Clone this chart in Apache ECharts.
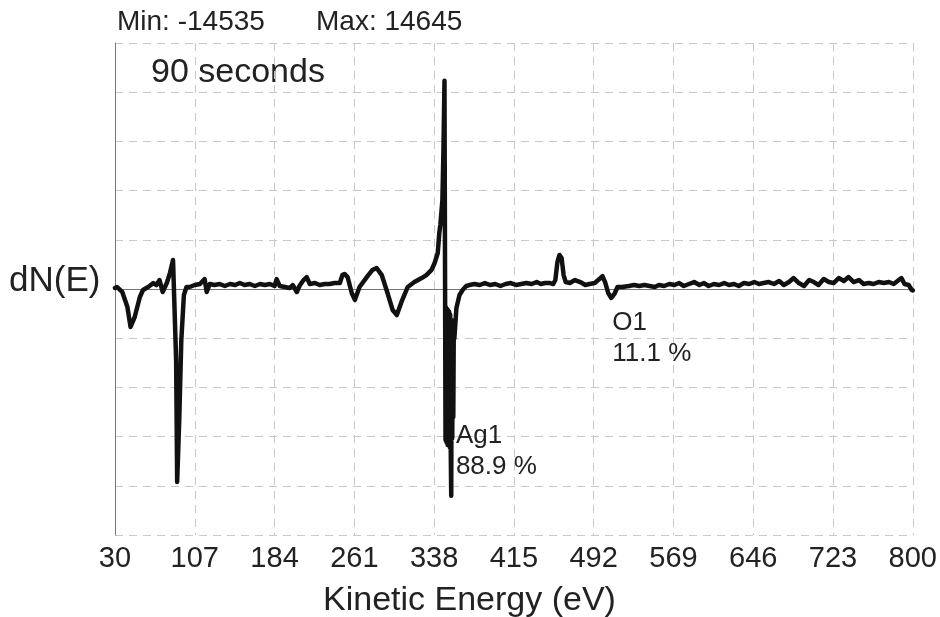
<!DOCTYPE html>
<html>
<head>
<meta charset="utf-8">
<script src="https://cdn.jsdelivr.net/npm/echarts@6/dist/echarts.min.js"></script>
<style>
  html, body { margin: 0; padding: 0; background: #fff; }
  #chart { width: 940px; height: 617px; }
</style>
</head>
<body>
<div id="chart"></div>
<script>
// AES spectrum, derivative mode (90 s acquisition)
const xTicks = [30, 107, 184, 261, 338, 415, 492, 569, 646, 723, 800];

// kinetic energy (eV)
const energy = [
  30, 32, 37, 42, 45, 49, 54, 57, 62, 67, 70, 73, 76, 80, 83, 86, 87, 89, 90, 92, 94, 96.5, 99, 102,
  107, 112, 116.5, 118.5, 121.5, 126, 131, 136, 141, 146, 150.5, 155, 160, 165, 170, 174.5, 179.5,
  184, 186, 189, 194, 198.5, 201.5, 205.5, 208, 212, 215, 218, 223, 227.5, 232.5, 237, 242, 247,
  249.5, 251.5, 254.5, 258.5, 261.5, 266, 273, 278.5, 282.5, 287.5, 293, 298, 302, 306.5, 312.5,
  319, 326, 330.5, 335.5, 338.5, 341.5, 343, 344, 346, 347, 348,
  349, 349.5, 350, 350.5, 351, 351.5, 352, 352.5, 353, 353.5, 354, 354.5, 355, 355.5, 356, 356.5, 357, 357.5,
  359.5, 362.5, 365.5, 369, 372, 377, 382, 387, 392, 397, 402, 407, 412, 417, 422, 427,
  432, 437, 441, 445, 450, 453, 455, 457, 459, 461, 463, 465, 469, 474, 479, 484, 488, 493, 497.5,
  500.5, 503, 506, 509, 512, 515, 519.5, 526, 531, 536, 541, 546, 551, 555, 560, 565, 570, 574.5,
  579, 584, 589, 594, 598.5, 603, 608, 613, 618, 622.5, 627.5, 632, 637, 642, 647, 651.5, 656, 661,
  666, 671, 675.5, 680.5, 685, 690, 695, 700, 704.5, 709, 714, 719, 723.5, 728.5, 733.5, 738, 743,
  748, 752.5, 757.5, 762, 767, 772, 777, 781.5, 786.5, 789, 792, 796, 799, 800
];

// dN(E) counts
const dNE = [
  70, 140, -210, -1270, -2670, -1970, -560, -70, 140, 420, 280, 630, -210, 420, 1120, 2040, 1900,
  -5000, -13570, -9210, -3590, -420, 140, 140,
  280, 350, 700, -210, 350, 280, 350, 210, 350, 280, 420, 280, 350, 210, 350, 280, 350,
  210, 700, 210, 140, 70, 280, -210, 210, 630, 840, 350, 420, 280, 350, 350, 420, 420,
  980, 1060, 840, -280, -770, 140, 840, 1340, 1480, 980, -280, -1480, -1830, -910, 140,
  490, 770, 980, 1340, 1830, 2530, 3940, 4500, 6260, 9780, 14645,
  -10620, -1300, -10800, -1400, -10970, -1500, -11000, -1600, -11110, -1800, -11000, -14535,
  -2200, -10500, -2600, -9000, -2400, -3500,
  -1340, -420, -70, 210, 280, 350, 280, 420, 280, 350, 210, 350, 420, 280, 350, 420,
  350, 490, 350, 420, 420, 350, 630, 1900, 2390, 2180, 980, 490, 420, 630, 490, 280, 350, 420, 700,
  910, 490, -280, -630, -350, 140, 140, 210, 280, 210, 280, 210, 140, 280, 210, 350, 280, 420,
  210, 350, 490, 280, 420, 210, 350, 280, 420, 280, 350, 210, 420, 350, 490, 350, 420, 490,
  350, 560, 280, 490, 770, 420, 210, 630, 490, 280, 700, 490, 420, 770, 560, 840, 490,
  630, 350, 420, 350, 490, 420, 490, 350, 630, 770, 350, 280, -70, -100
];

const peakLabels = [
  { name: 'Ag1', pct: '88.9 %', e: 359, v: -11450 },
  { name: 'O1', pct: '11.1 %', e: 510, v: -3500 }
];

const chart = echarts.init(document.getElementById('chart'));
const font = '"Liberation Sans", Arial, Helvetica, sans-serif';

chart.setOption({
  animation: false,
  backgroundColor: '#fff',
  grid: { left: 115, right: 26, top: 43, bottom: 82 },
  xAxis: {
    type: 'value',
    min: 30,
    max: 800,
    interval: 77,
    axisLine: { lineStyle: { color: '#777', width: 1 } },
    axisTick: { show: false },
    axisLabel: {
      fontFamily: font, fontSize: 29, color: '#222', margin: 9,
      formatter: v => (xTicks.indexOf(v) >= 0 ? String(v) : '')
    },
    splitLine: { show: true, lineStyle: { color: '#c8c8c8', type: [8, 6], width: 1 } }
  },
  yAxis: {
    type: 'value',
    min: -17300,
    max: 17300,
    interval: 3460,
    axisLine: { show: true, lineStyle: { color: '#777', width: 1 } },
    axisTick: { show: false },
    axisLabel: { show: false },
    splitLine: { show: true, lineStyle: { color: '#c8c8c8', type: [8, 6], width: 1 } }
  },
  graphic: [
    { type: 'text', left: 117, top: 8, style: { text: 'Min: -14535', font: '28px ' + font, fill: '#222' } },
    { type: 'text', left: 316, top: 8, style: { text: 'Max: 14645', font: '28px ' + font, fill: '#222' } },
    { type: 'text', left: 151, top: 56, style: { text: '90 seconds', font: '34px ' + font, fill: '#222' } },
    { type: 'text', left: 9, top: 264, style: { text: 'dN(E)', font: '35px ' + font, fill: '#222' } },
    { type: 'text', left: 323, top: 584, style: { text: 'Kinetic Energy (eV)', font: '34px ' + font, fill: '#222' } }
  ],
  series: [{
    type: 'line',
    data: energy.map((e, i) => [e, dNE[i]]),
    showSymbol: false,
    symbol: 'none',
    lineStyle: { color: '#111', width: 4.5, join: 'round', cap: 'round' },
    markPoint: {
      symbol: 'circle',
      symbolSize: 0,
      data: peakLabels.map(p => ({ coord: [p.e, p.v], value: p.name })),
      label: {
        show: true,
        position: 'right',
        distance: 0,
        fontFamily: font,
        fontSize: 26,
        lineHeight: 31,
        color: '#222',
        formatter: params => {
          const p = peakLabels.find(q => q.name === params.value);
          return p.name + '\n' + p.pct;
        }
      }
    }
  }]
});
</script>
</body>
</html>
